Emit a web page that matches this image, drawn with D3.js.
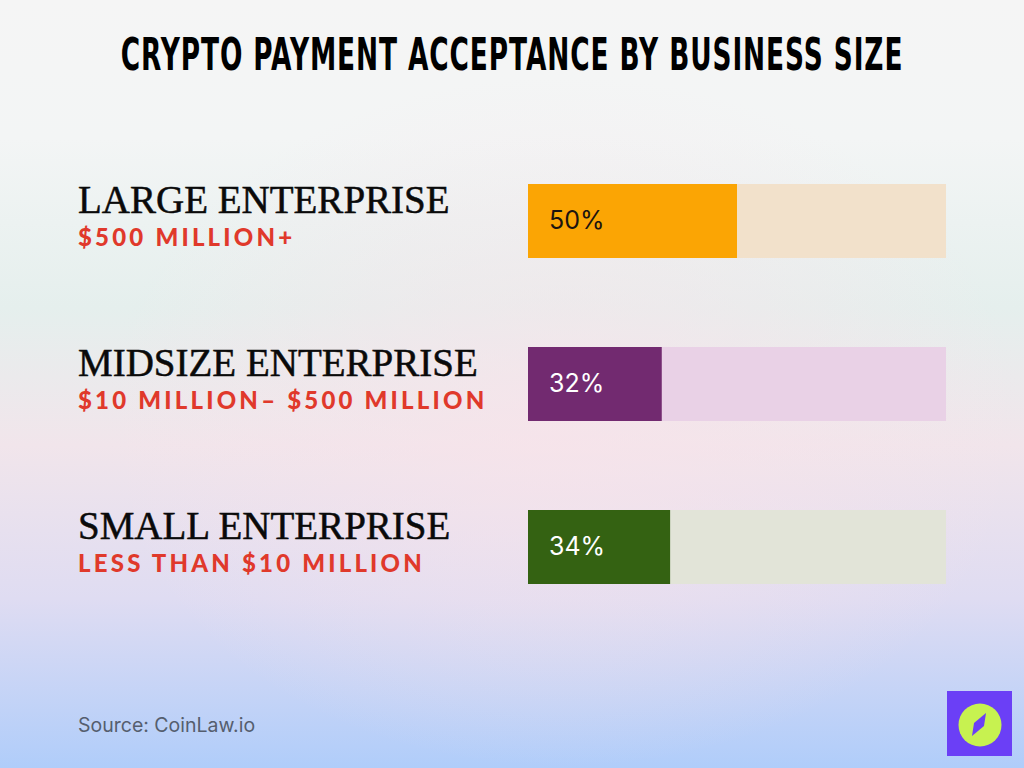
<!DOCTYPE html>
<html>
<head>
<meta charset="utf-8">
<script src="https://cdn.jsdelivr.net/npm/d3@7/dist/d3.min.js"></script>
<style>
  html, body { margin: 0; padding: 0; }
  body { width: 1024px; height: 768px; overflow: hidden; }
  svg { display: block; }
</style>
</head>
<body>
<svg id="chart" width="1024" height="768"></svg>
<script>
const title = "Crypto Payment Acceptance by Business Size";
const categories = ["LARGE ENTERPRISE", "MIDSIZE ENTERPRISE", "SMALL ENTERPRISE"];
const subLabels = ["$500 MILLION+", "$10 MILLION\u2013 $500 MILLION", "LESS THAN $10 MILLION"];
const values = [50, 32, 34];
const barColors = ["#fba504", "#722a70", "#346212"];
const trackColors = ["#f2e1cb", "#e9d1e6", "#e2e4d8"];
const valueTextColors = ["#1c1410", "#ffffff", "#ffffff"];
const sourceText = "Source: CoinLaw.io";

const W = 1024, H = 768;
const svg = d3.select("#chart");
const defs = svg.append("defs");

// background
const bg = defs.append("linearGradient").attr("id", "bgGrad")
  .attr("x1", 0).attr("y1", 0).attr("x2", 0).attr("y2", 1);
[[0, "#f5f5f5"], [0.18, "#f3f5f5"], [0.40, "#e5efed"], [0.58, "#f1e5eb"],
 [0.78, "#dfdcf2"], [1, "#b0cdfa"]].forEach(([o, c]) =>
  bg.append("stop").attr("offset", o).attr("stop-color", c));
svg.append("rect").attr("width", W).attr("height", H).attr("fill", "url(#bgGrad)");

const pink = defs.append("radialGradient").attr("id", "pinkGlow")
  .attr("cx", 0.55).attr("cy", 0.55).attr("r", 0.45);
pink.append("stop").attr("offset", 0).attr("stop-color", "#f8e3ea").attr("stop-opacity", 0.7);
pink.append("stop").attr("offset", 1).attr("stop-color", "#f8e3ea").attr("stop-opacity", 0);
svg.append("rect").attr("width", W).attr("height", H).attr("fill", "url(#pinkGlow)");

// title (condensed by horizontal scaling to fit the reference width)
const titleG = svg.append("g");
const titleEl = titleG.append("text")
  .attr("x", 0).attr("y", 0)
  .attr("text-anchor", "middle")
  .attr("font-family", "'DejaVu Sans', sans-serif")
  .attr("font-weight", "bold")
  .attr("font-size", 44)
  .attr("letter-spacing", 1.5)
  .attr("fill", "#000")
  .text(title.toUpperCase());
{
  const target = 783;
  const w = titleEl.node().getComputedTextLength();
  titleG.attr("transform", `translate(512,70) scale(${(target / w).toFixed(4)},1)`);
}

// scales
const x = d3.scaleLinear().domain([0, 100]).range([528, 946]);
const y = d3.scaleBand().domain(categories).range([184, 584]).paddingInner(0.546).paddingOuter(0);

const rows = svg.selectAll("g.row").data(categories).join("g").attr("class", "row");

rows.append("rect")
  .attr("x", x(0)).attr("y", d => y(d))
  .attr("width", x(100) - x(0)).attr("height", y.bandwidth())
  .attr("fill", (d, i) => trackColors[i]);

rows.append("rect")
  .attr("x", x(0)).attr("y", d => y(d))
  .attr("width", (d, i) => x(values[i]) - x(0)).attr("height", y.bandwidth())
  .attr("fill", (d, i) => barColors[i]);

rows.append("text")
  .attr("x", x(0) + 21)
  .attr("y", d => y(d) + y.bandwidth() / 2 + 8)
  .attr("font-family", "Inter, 'Open Sans', sans-serif")
  .attr("font-size", 25)
  .attr("fill", (d, i) => valueTextColors[i])
  .text((d, i) => values[i] + "%");

rows.append("text")
  .attr("x", 78)
  .attr("y", d => y(d) + y.bandwidth() / 2 - 8)
  .attr("font-family", "'Liberation Serif', 'DejaVu Serif', serif")
  .attr("font-size", 39)
  .attr("fill", "#0a0a0a")
  .attr("stroke", "#0a0a0a")
  .attr("stroke-width", 0.5)
  .text(d => d);

rows.append("text")
  .attr("x", 78)
  .attr("y", d => y(d) + y.bandwidth() / 2 + 25)
  .attr("font-family", "Lato, 'DejaVu Sans', sans-serif")
  .attr("font-weight", 900)
  .attr("font-size", 24)
  .attr("letter-spacing", 3.2)
  .attr("fill", "#e0392b")
  .text((d, i) => subLabels[i]);

// source
svg.append("text")
  .attr("x", 78).attr("y", 732)
  .attr("font-family", "Inter, 'Open Sans', sans-serif")
  .attr("font-size", 19.5)
  .attr("fill", "#555e6e")
  .text(sourceText);

// logo
const logo = svg.append("g");
logo.append("rect").attr("x", 947).attr("y", 691).attr("width", 65).attr("height", 65).attr("fill", "#6b3ff6");
logo.append("circle").attr("cx", 980).attr("cy", 725).attr("r", 21.5).attr("fill", "#c7f250");
logo.append("polygon").attr("points", "986,713 984,726 972,736 974,723").attr("fill", "#6b3ff6");
</script>
</body>
</html>
